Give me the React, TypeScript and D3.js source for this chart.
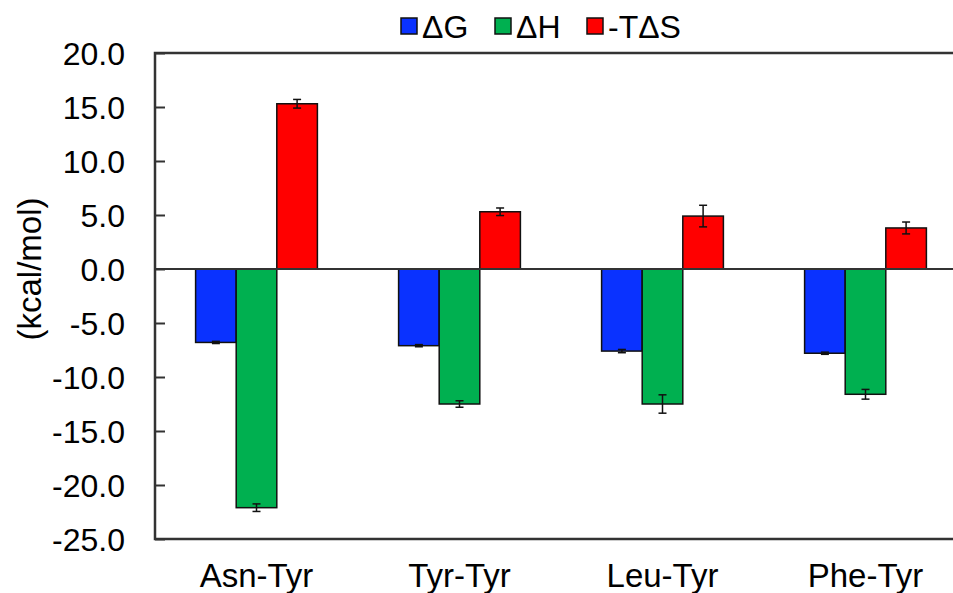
import React, { useEffect, useRef } from 'react';
import * as d3 from 'd3';

const categories = ['Asn-Tyr', 'Tyr-Tyr', 'Leu-Tyr', 'Phe-Tyr'];
const seriesNames = ['ΔG', 'ΔH', '-TΔS'];
const seriesColors = ['#0a32ff', '#00b050', '#ff0000'];

const dG = [-6.8, -7.1, -7.6, -7.8];
const dGErr = [0.1, 0.1, 0.15, 0.1];
const dH = [-22.1, -12.5, -12.5, -11.6];
const dHErr = [0.35, 0.3, 0.85, 0.45];
const tdS = [15.3, 5.3, 4.9, 3.8];
const tdSErr = [0.4, 0.35, 1.0, 0.55];

const yTicks = [20, 15, 10, 5, 0, -5, -10, -15, -20, -25];

const App = () => {
  const chartRef = useRef<SVGSVGElement>(null);

  useEffect(() => {
    const width = 953;
    const left = 155;
    const top = 53;
    const bottom = 539;
    const font = 'Liberation Sans, Arial, Helvetica, sans-serif';

    const svg = d3.select(chartRef.current);
    svg.selectAll('*').remove();

    const values = [dG, dH, tdS];
    const errors = [dGErr, dHErr, tdSErr];

    // plot area runs past the right edge of the picture
    const x = d3.scaleBand<string>().domain(categories).range([left, 967]);
    const x1 = d3.scaleBand<string>().domain(seriesNames).range([0, x.bandwidth()]).paddingOuter(1).paddingInner(0);
    const y = d3.scaleLinear().domain([-25, 20]).range([bottom, top]);

    const g = svg.append('g');

    // bars
    seriesNames.forEach((s, si) => {
      g.selectAll(`.bar${si}`)
        .data(categories)
        .enter()
        .append('rect')
        .attr('x', (c) => (x(c) as number) + (x1(s) as number))
        .attr('width', x1.bandwidth())
        .attr('y', (_, i) => Math.min(y(values[si][i]), y(0)))
        .attr('height', (_, i) => Math.abs(y(values[si][i]) - y(0)))
        .attr('fill', seriesColors[si])
        .attr('stroke', '#111')
        .attr('stroke-width', 1.5);
    });

    // error bars
    seriesNames.forEach((s, si) => {
      categories.forEach((c, i) => {
        const cx = (x(c) as number) + (x1(s) as number) + x1.bandwidth() / 2;
        const v = values[si][i];
        const e = errors[si][i];
        const y0 = y(v - e);
        const y1 = y(v + e);
        g.append('line').attr('x1', cx).attr('x2', cx).attr('y1', y0).attr('y2', y1)
          .attr('stroke', '#111').attr('stroke-width', 1.5);
        [y0, y1].forEach((yy) => {
          g.append('line').attr('x1', cx - 4).attr('x2', cx + 4).attr('y1', yy).attr('y2', yy)
            .attr('stroke', '#111').attr('stroke-width', 1.5);
        });
      });
    });

    // zero line
    g.append('line').attr('x1', left).attr('x2', width).attr('y1', y(0)).attr('y2', y(0))
      .attr('stroke', '#333').attr('stroke-width', 2);

    // frame
    g.append('path')
      .attr('d', `M${width},${y(20)}H${left}V${y(-25)}H${width}`)
      .attr('fill', 'none')
      .attr('stroke', '#333')
      .attr('stroke-width', 2.5);

    // y axis ticks pointing inward
    const yAxis = d3.axisRight(y)
      .tickValues(yTicks)
      .tickSize(10)
      .tickFormat(() => '');
    const ax = g.append('g').attr('transform', `translate(${left},0)`).call(yAxis);
    ax.select('.domain').remove();
    ax.selectAll('.tick line').attr('stroke', '#333').attr('stroke-width', 2);

    g.selectAll('.ylab')
      .data(yTicks)
      .enter()
      .append('text')
      .attr('x', 125)
      .attr('y', (d) => y(d))
      .attr('dy', '0.36em')
      .attr('text-anchor', 'end')
      .style('font-family', font)
      .style('font-size', '32px')
      .attr('fill', '#000')
      .text((d) => d.toFixed(1));

    g.append('text')
      .attr('transform', `translate(41,${y(0)}) rotate(-90)`)
      .attr('text-anchor', 'middle')
      .style('font-family', font)
      .style('font-size', '33px')
      .attr('fill', '#000')
      .text('(kcal/mol)');

    // category labels
    g.selectAll('.xlab')
      .data(categories)
      .enter()
      .append('text')
      .attr('x', (c) => (x(c) as number) + x.bandwidth() / 2)
      .attr('y', 587)
      .attr('text-anchor', 'middle')
      .style('font-family', font)
      .style('font-size', '33px')
      .attr('fill', '#000')
      .text((c) => c);

    // legend
    const legendX = [401, 495, 587];
    seriesNames.forEach((s, si) => {
      g.append('rect')
        .attr('x', legendX[si])
        .attr('y', 18)
        .attr('width', 16)
        .attr('height', 16)
        .attr('fill', seriesColors[si])
        .attr('stroke', '#111')
        .attr('stroke-width', 1.5);
      g.append('text')
        .attr('x', legendX[si] + 21)
        .attr('y', 38)
        .style('font-family', font)
        .style('font-size', '32px')
        .attr('fill', '#000')
        .text(s);
    });
  }, []);

  return (
    <svg
      ref={chartRef}
      width={953}
      height={593}
      style={{ position: 'absolute', left: 0, top: 0, background: '#fff' }}
    />
  );
};

export default App;
